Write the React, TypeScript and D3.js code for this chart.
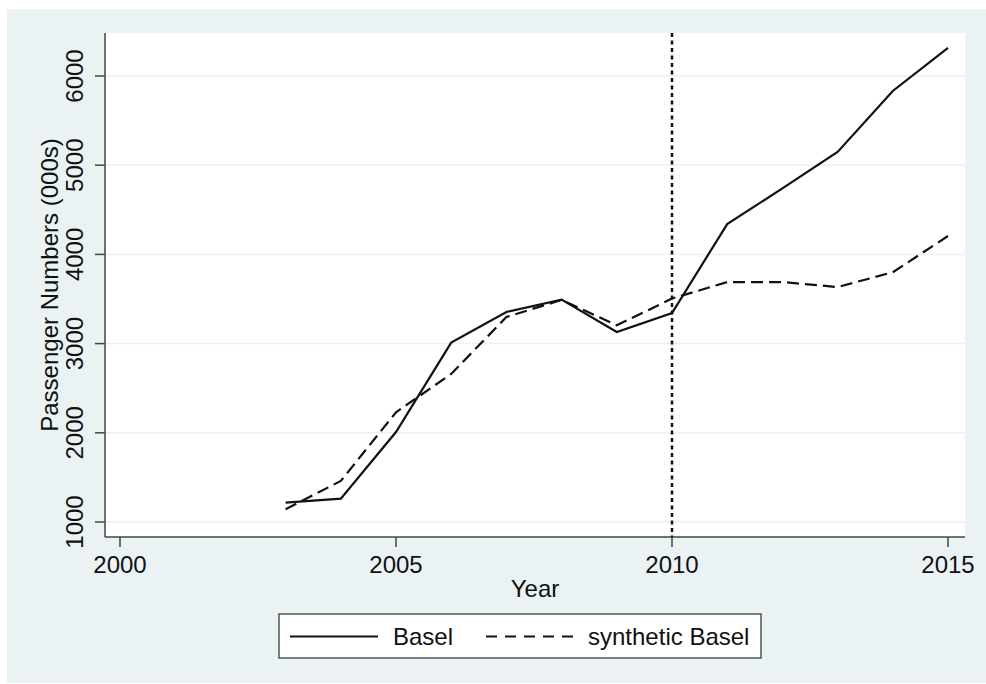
import React from "react";
import * as d3 from "d3";

const years = [2003, 2004, 2005, 2006, 2007, 2008, 2009, 2010, 2011, 2012, 2013, 2014, 2015];
const basel = [1217, 1262, 2009, 3011, 3354, 3493, 3130, 3343, 4340, 4740, 5148, 5832, 6314];
const synthetic = [1143, 1460, 2230, 2660, 3298, 3490, 3205, 3505, 3690, 3690, 3634, 3800, 4206];
const xTicks = [2000, 2005, 2010, 2015];
const yTicks = [1000, 2000, 3000, 4000, 5000, 6000];
const treatmentYear = 2010;
const seriesNames = ["Basel", "synthetic Basel"];

const W = 986;
const H = 684;
const plot = { left: 105, right: 965, top: 33, bottom: 537 };
const FONT = "'Liberation Sans', Arial, sans-serif";
const BG = "#EAF2F3";
const INK = "#111111";

export default function App() {
  const x = d3.scaleLinear().domain([2000, 2015]).range([120, 948]);
  const y = d3.scaleLinear().domain([1000, 6000]).range([522, 76]);
  const line = d3
    .line<number>()
    .x((_, i) => x(years[i]))
    .y((d) => y(d));

  return (
    <svg
      width={W}
      height={H}
      style={{ position: "absolute", left: 0, top: 0 }}
      fontFamily={FONT}
    >
      <rect x={0} y={0} width={W} height={H} fill="#ffffff" />
      <rect x={7} y={9} width={W - 7} height={H - 10} fill={BG} />
      <rect
        x={plot.left}
        y={plot.top}
        width={plot.right - plot.left}
        height={plot.bottom - plot.top}
        fill="#ffffff"
      />
      {/* gridlines */}
      {yTicks.map((t) => (
        <line
          key={"g" + t}
          x1={plot.left}
          x2={plot.right}
          y1={y(t)}
          y2={y(t)}
          stroke={BG}
          strokeWidth={1.5}
        />
      ))}
      {/* y axis */}
      <line x1={plot.left} x2={plot.left} y1={plot.top} y2={plot.bottom} stroke="#444" strokeWidth={1.5} />
      {yTicks.map((t) => (
        <g key={"yt" + t}>
          <line x1={plot.left - 10} x2={plot.left} y1={y(t)} y2={y(t)} stroke="#444" strokeWidth={1.5} />
          <text
            transform={`translate(83,${y(t)}) rotate(-90)`}
            textAnchor="middle"
            fontSize={24}
            fill={INK}
          >
            {t}
          </text>
        </g>
      ))}
      <text
        transform={`translate(58,${(plot.top + plot.bottom) / 2}) rotate(-90)`}
        textAnchor="middle"
        fontSize={24}
        fill={INK}
      >
        Passenger Numbers (000s)
      </text>
      {/* x axis */}
      <line x1={plot.left} x2={plot.right} y1={plot.bottom} y2={plot.bottom} stroke="#444" strokeWidth={1.5} />
      {xTicks.map((t) => (
        <g key={"xt" + t}>
          <line x1={x(t)} x2={x(t)} y1={plot.bottom} y2={plot.bottom + 10} stroke="#444" strokeWidth={1.5} />
          <text x={x(t)} y={573} textAnchor="middle" fontSize={24} fill={INK}>
            {t}
          </text>
        </g>
      ))}
      <text x={(plot.left + plot.right) / 2} y={597} textAnchor="middle" fontSize={24} fill={INK}>
        Year
      </text>
      {/* treatment line */}
      <line
        x1={x(treatmentYear)}
        x2={x(treatmentYear)}
        y1={plot.top}
        y2={plot.bottom}
        stroke={INK}
        strokeWidth={2.5}
        strokeDasharray="4,3.5"
      />
      {/* series */}
      <path d={line(basel) ?? ""} fill="none" stroke={INK} strokeWidth={2.2} />
      <path d={line(synthetic) ?? ""} fill="none" stroke={INK} strokeWidth={2.2} strokeDasharray="12,6" />
      {/* legend */}
      <rect x={279} y={614} width={482} height={44} fill="#ffffff" stroke="#555" strokeWidth={1.5} />
      <line x1={290} x2={378} y1={636.5} y2={636.5} stroke={INK} strokeWidth={2.2} />
      <text x={393} y={645} fontSize={24} fill={INK}>
        {seriesNames[0]}
      </text>
      <line x1={486} x2={574} y1={636.5} y2={636.5} stroke={INK} strokeWidth={2.2} strokeDasharray="11,8" />
      <text x={588} y={645} fontSize={24} fill={INK}>
        {seriesNames[1]}
      </text>
    </svg>
  );
}
